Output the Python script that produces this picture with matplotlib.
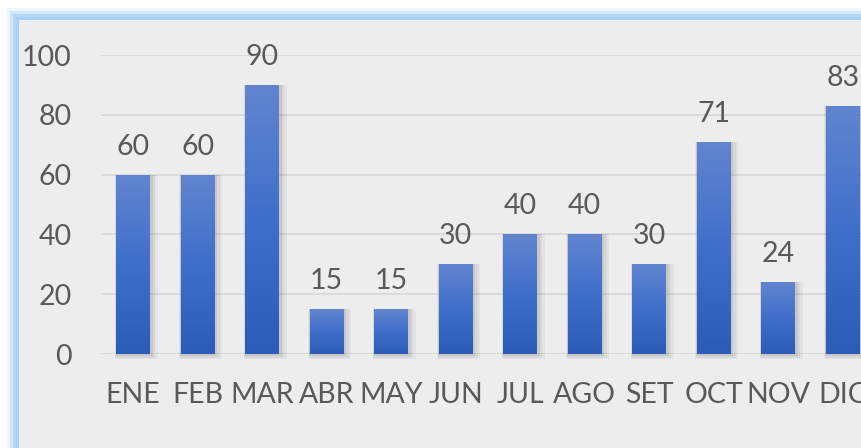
import numpy as np
import matplotlib
matplotlib.use('Agg')
import matplotlib.pyplot as plt
from matplotlib.patches import Rectangle
from matplotlib.colors import LinearSegmentedColormap

meses = ['ENE', 'FEB', 'MAR', 'ABR', 'MAY', 'JUN', 'JUL', 'AGO', 'SET', 'OCT', 'NOV', 'DIC']
valores = [60, 60, 90, 15, 15, 30, 40, 40, 30, 71, 24, 83]

plt.rcParams['font.family'] = ['Lato', 'DejaVu Sans']
gris = '#595959'

fig = plt.figure(figsize=(8.61, 4.48), dpi=100)
W, H = 861, 448

# marco con brillo azul
for i, a in enumerate([0.2, 0.4, 0.7, 1.0]):
    pad = 12 - i * 3
    fig.add_artist(Rectangle(((19 - pad) / W, 0), 1, (H - 20 + pad) / H,
                             transform=fig.transFigure, facecolor='#A8D2F8',
                             alpha=a, edgecolor='none', zorder=-3))
fig.add_artist(Rectangle((19 / W, 0), 1, (H - 20) / H, transform=fig.transFigure,
                         facecolor='#EDEDED', edgecolor='none', zorder=-2))

ax = fig.add_axes([101 / W, (H - 354) / H, 774 / W, 299 / H])
ax.set_facecolor('none')
x = np.arange(len(meses))
ax.set_yticks(range(0, 101, 20))
ax.grid(axis='y', color='#D9D9D9', linewidth=1.3, zorder=0)
for s in ax.spines.values():
    s.set_visible(False)
ax.tick_params(length=0, labelsize=20.5, labelcolor=gris)
ax.tick_params(axis='y', pad=21)
ax.tick_params(axis='x', pad=20)
ax.set_xticks(x)
ax.set_xticklabels(meses)

cmap = LinearSegmentedColormap.from_list('az', ['#2B5CB8', '#3F6FCB', '#6285CF'])
grad = np.linspace(0, 1, 256).reshape(-1, 1)
ancho = 0.52
bars = ax.bar(x, valores, width=ancho, color='none', zorder=3)
for b, v in zip(bars, valores):
    # sombra
    for k, al in enumerate([0.07, 0.05, 0.04]):
        d = 0.03 * (k + 1)
        ax.add_patch(Rectangle((b.get_x() - d * 0.3, -0.6 * (k + 1)), ancho + d * 1.6,
                               v + 0.6 * (k + 1), facecolor='black', alpha=al,
                               edgecolor='none', zorder=2, clip_on=False))
    im = ax.imshow(grad, cmap=cmap, origin='lower', aspect='auto', zorder=3,
                   extent=[b.get_x(), b.get_x() + ancho, 0, v])
    im.set_clip_path(b)
    ax.annotate(str(v), (b.get_x() + ancho / 2, v), xytext=(0, 28),
                textcoords='offset pixels', ha='center', va='center',
                fontsize=20.5, color=gris, annotation_clip=False)

ax.set_xlim(-0.5, len(meses) - 0.5)
ax.set_ylim(0, 100)

fig.savefig('out.png', dpi=100)
